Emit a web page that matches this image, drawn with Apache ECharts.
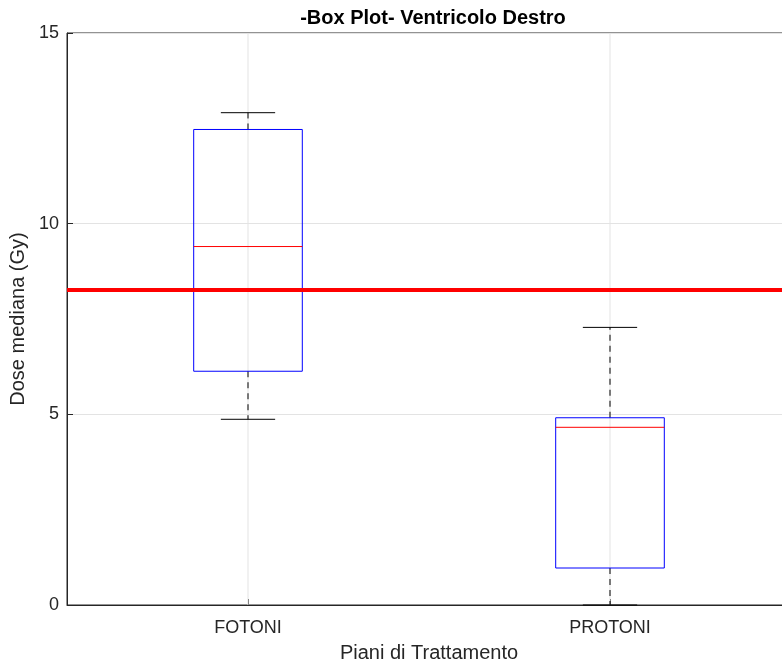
<!DOCTYPE html>
<html>
<head>
<meta charset="utf-8">
<script src="https://cdn.jsdelivr.net/npm/echarts@6/dist/echarts.min.js"></script>
<style>html,body{margin:0;padding:0;background:#fff;overflow:hidden;width:782px;height:668px}#c{width:800px;height:668px}</style>
</head>
<body>
<div id="c"></div>
<script>
var categories = ['FOTONI', 'PROTONI'];
var lowerWhisker = [4.87, 0.0];
var q1 = [6.13, 0.97];
var median = [9.40, 4.66];
var q3 = [12.47, 4.91];
var upperWhisker = [12.91, 7.28];
var referenceLine = 8.27;
var yTicks = [0, 5, 10, 15];

var boxData = categories.map(function (c, i) {
  return [i, lowerWhisker[i], q1[i], median[i], q3[i], upperWhisker[i]];
});
var gridData = categories.map(function (c, i) { return [i, 0, 15]; });

var FONT = 'Liberation Sans';
var chart = echarts.init(document.getElementById('c'), null, {renderer: 'canvas'});

function renderGrid(params, api) {
  var idx = api.value(0);
  var a = api.coord([idx, api.value(1)]);
  var b = api.coord([idx, api.value(2)]);
  return {type: 'line', shape: {x1: a[0], y1: a[1], x2: b[0], y2: b[1]},
    style: {stroke: '#e3e3e3', lineWidth: 1}};
}

function renderBox(params, api) {
  var idx = api.value(0);
  var band = api.size([1, 0])[0];
  var bw = band * 0.30;
  var cw = band * 0.15;
  var pMin = api.coord([idx, api.value(1)]);
  var pQ1 = api.coord([idx, api.value(2)]);
  var pMed = api.coord([idx, api.value(3)]);
  var pQ3 = api.coord([idx, api.value(4)]);
  var pMax = api.coord([idx, api.value(5)]);
  var x = pMed[0];
  var dash = {stroke: '#000', lineWidth: 1, lineDash: [6, 5]};
  var solid = {stroke: '#000', lineWidth: 1};
  return {
    type: 'group',
    children: [
      {type: 'line', shape: {x1: x, y1: pQ3[1], x2: x, y2: pMax[1]}, style: dash},
      {type: 'line', shape: {x1: x, y1: pQ1[1], x2: x, y2: pMin[1]}, style: dash},
      {type: 'line', shape: {x1: x - cw / 2, y1: pMax[1], x2: x + cw / 2, y2: pMax[1]}, style: solid},
      {type: 'line', shape: {x1: x - cw / 2, y1: pMin[1], x2: x + cw / 2, y2: pMin[1]}, style: solid},
      {type: 'rect', shape: {x: x - bw / 2, y: pQ3[1], width: bw, height: pQ1[1] - pQ3[1]},
        style: {fill: 'none', stroke: '#0000ff', lineWidth: 1}},
      {type: 'line', shape: {x1: x - bw / 2, y1: pMed[1], x2: x + bw / 2, y2: pMed[1]},
        style: {stroke: '#ff0000', lineWidth: 1}}
    ]
  };
}

chart.setOption({
  animation: false,
  backgroundColor: '#fff',
  title: {
    text: '-Box Plot- Ventricolo Destro',
    left: 428, top: 3, textAlign: 'center',
    textStyle: {fontFamily: FONT, fontSize: 20, fontWeight: 'bold', color: '#000'}
  },
  grid: {left: 67, top: 33, right: 9, bottom: 62, show: true, borderColor: '#262626', borderWidth: 1, backgroundColor: 'transparent'},
  xAxis: {
    type: 'category',
    data: categories,
    boundaryGap: true,
    name: 'Piani di Trattamento',
    nameLocation: 'middle',
    nameGap: 38,
    nameTextStyle: {fontFamily: FONT, fontSize: 20, color: '#262626'},
    axisLine: {show: true, lineStyle: {color: '#262626', width: 1}},
    axisTick: {show: true, inside: true, alignWithLabel: true, length: 6, lineStyle: {color: '#262626'}},
    axisLabel: {fontFamily: FONT, fontSize: 18, color: '#262626', margin: 14},
    splitLine: {show: false}
  },
  yAxis: {
    type: 'value',
    min: 0, max: 15, interval: 5,
    name: 'Dose mediana (Gy)',
    nameLocation: 'middle',
    nameGap: 34,
    nameTextStyle: {fontFamily: FONT, fontSize: 20, color: '#262626'},
    axisLine: {show: true, lineStyle: {color: '#262626', width: 1}},
    axisTick: {show: true, inside: true, length: 6, lineStyle: {color: '#262626'}},
    axisLabel: {fontFamily: FONT, fontSize: 18, color: '#262626', margin: 8,
      formatter: function (v) { return yTicks.indexOf(v) >= 0 ? String(v) : ''; }},
    splitLine: {show: true, lineStyle: {color: '#e3e3e3', width: 1}}
  },
  series: [{
    type: 'custom',
    renderItem: renderGrid,
    data: gridData,
    encode: {x: 0, y: [1, 2]},
    silent: true,
    z: 1
  }, {
    type: 'custom',
    renderItem: renderBox,
    data: boxData,
    encode: {x: 0, y: [1, 2, 3, 4, 5]},
    z: 3,
    markLine: {
      silent: true,
      symbol: 'none',
      label: {show: false},
      lineStyle: {color: '#ff0000', width: 4, type: 'solid'},
      data: [{yAxis: referenceLine}]
    }
  }]
});
</script>
</body>
</html>
